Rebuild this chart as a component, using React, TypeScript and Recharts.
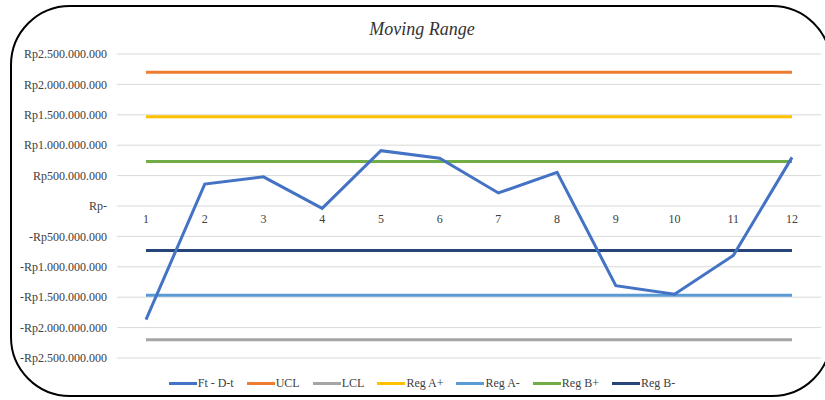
import React from 'react';
import { LineChart, Line, XAxis, YAxis, CartesianGrid, LabelList } from 'recharts';

const categories = ['1', '2', '3', '4', '5', '6', '7', '8', '9', '10', '11', '12'];
const ftdt = [-1870000000, 360000000, 480000000, -40000000, 910000000, 785000000, 215000000, 555000000, -1310000000, -1450000000, -815000000, 800000000];
const ucl = [2200000000, 2200000000, 2200000000, 2200000000, 2200000000, 2200000000, 2200000000, 2200000000, 2200000000, 2200000000, 2200000000, 2200000000];
const lcl = [-2200000000, -2200000000, -2200000000, -2200000000, -2200000000, -2200000000, -2200000000, -2200000000, -2200000000, -2200000000, -2200000000, -2200000000];
const regAPlus = [1467000000, 1467000000, 1467000000, 1467000000, 1467000000, 1467000000, 1467000000, 1467000000, 1467000000, 1467000000, 1467000000, 1467000000];
const regAMinus = [-1467000000, -1467000000, -1467000000, -1467000000, -1467000000, -1467000000, -1467000000, -1467000000, -1467000000, -1467000000, -1467000000, -1467000000];
const regBPlus = [733000000, 733000000, 733000000, 733000000, 733000000, 733000000, 733000000, 733000000, 733000000, 733000000, 733000000, 733000000];
const regBMinus = [-733000000, -733000000, -733000000, -733000000, -733000000, -733000000, -733000000, -733000000, -733000000, -733000000, -733000000, -733000000];
const yTicks = [-2500000000, -2000000000, -1500000000, -1000000000, -500000000, 0, 500000000, 1000000000, 1500000000, 2000000000, 2500000000];

const series = [
  { key: 'ftdt', name: 'Ft - D-t', color: '#4472C4', values: ftdt },
  { key: 'ucl', name: 'UCL', color: '#ED7D31', values: ucl },
  { key: 'lcl', name: 'LCL', color: '#A5A5A5', values: lcl },
  { key: 'regAPlus', name: 'Reg A+', color: '#FFC000', values: regAPlus },
  { key: 'regAMinus', name: 'Reg A-', color: '#5B9BD5', values: regAMinus },
  { key: 'regBPlus', name: 'Reg B+', color: '#70AD47', values: regBPlus },
  { key: 'regBMinus', name: 'Reg B-', color: '#264478', values: regBMinus },
];

const data = categories.map((c, i) => {
  const row: any = { cat: c, zero: 0 };
  series.forEach((s) => { row[s.key] = s.values[i]; });
  return row;
});

const fmt = (v: number) => {
  if (v === 0) return 'Rp-';
  const s = Math.abs(v).toString().replace(/\B(?=(\d{3})+(?!\d))/g, '.');
  return (v < 0 ? '-' : '') + 'Rp' + s;
};

const FONT = '"Liberation Serif", "Times New Roman", serif';

export default function App() {
  return (
    <div style={{ position: 'absolute', left: 0, top: 0, width: 825, height: 400, overflow: 'hidden', background: '#fff', fontFamily: FONT }}>
      <div style={{ position: 'absolute', left: 10, top: 5, width: 822, height: 392, border: '2px solid #000', borderRadius: 60, boxSizing: 'border-box' }} />
      <div style={{ position: 'absolute', left: 10, top: 19, width: 824, textAlign: 'center', fontSize: 18, fontStyle: 'italic', color: '#333333' }}>Moving Range</div>
      <div style={{ position: 'absolute', left: 0, top: 0 }}>
        <LineChart width={825} height={400} data={data} margin={{ top: 54, right: 4, bottom: 42, left: 12 }}>
          <CartesianGrid vertical={false} stroke="#D9D9D9" strokeWidth={1} />
          <XAxis dataKey="cat" hide padding={{ left: 29, right: 29 }} />
          <YAxis
            width={105}
            domain={[-2500000000, 2500000000]}
            ticks={yTicks}
            tickFormatter={fmt}
            axisLine={false}
            tickLine={false}
            tickSize={0}
            tickMargin={10}
            interval={0}
            tick={{ fill: '#404040', fontSize: 12, fontFamily: FONT }}
          />
          <Line dataKey="zero" stroke="none" dot={false} legendType="none" isAnimationActive={false}>
            <LabelList dataKey="cat" position="bottom" offset={8} style={{ fill: '#404040', fontSize: 12, fontFamily: FONT }} />
          </Line>
          {series.slice(1).map((s) => (
            <Line key={s.key} dataKey={s.key} name={s.name} stroke={s.color} strokeWidth={3} dot={false} isAnimationActive={false} />
          ))}
          <Line dataKey="ftdt" name="Ft - D-t" stroke="#4472C4" strokeWidth={3} dot={false} isAnimationActive={false} />
        </LineChart>
      </div>
      <div style={{ position: 'absolute', left: 10, top: 376, width: 824, display: 'flex', justifyContent: 'center', gap: 13, fontSize: 12, color: '#404040' }}>
        {series.map((s) => (
          <div key={s.key} style={{ display: 'flex', alignItems: 'center' }}>
            <div style={{ width: 28, height: 3, background: s.color, marginRight: 1 }} />
            <span>{s.name}</span>
          </div>
        ))}
      </div>
    </div>
  );
}
